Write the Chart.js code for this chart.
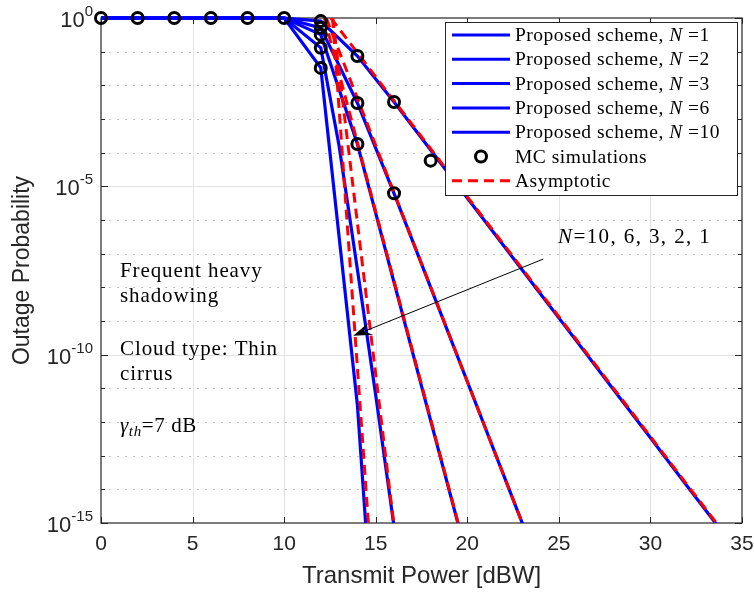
<!DOCTYPE html>
<html>
<head>
<meta charset="utf-8">
<script src="https://cdn.jsdelivr.net/npm/chart.js@4.4.1/dist/chart.umd.min.js"></script>
<style>
  html, body { margin: 0; padding: 0; background: #ffffff; }
  canvas { display: block; }
</style>
</head>
<body>
<canvas id="c" width="754" height="592"></canvas>
<script>
// ---- Outage probability vs transmit power ----

// Analytical curves (proposed scheme)
const powerN1  = [0, 2, 4, 6, 8, 10, 12, 14, 16, 18, 20, 22, 24, 26, 28, 30, 32, 34];
const outageN1 = [1, 1, 1, 1, 1, 1, 0.81, 0.074, 3.2e-3, 1.2e-4, 4.5e-6, 1.7e-7, 6.3e-9, 2.4e-10, 8.9e-12, 3.4e-13, 1.26e-14, 4.8e-16];

const powerN2  = [0, 2, 4, 6, 8, 10, 12, 14, 16, 18, 20, 22, 24];
const outageN2 = [1, 1, 1, 1, 1, 1, 0.51, 3.0e-3, 6.2e-6, 1.0e-8, 1.6e-11, 2.5e-14, 4.0e-17];

const powerN3  = [0, 2, 4, 6, 8, 10, 12, 14, 16, 18, 20];
const outageN3 = [1, 1, 1, 1, 1, 1, 0.32, 1.8e-4, 1.4e-8, 1.1e-12, 8.9e-17];

const powerN6  = [0, 2, 4, 6, 8, 10, 12, 13, 14, 15, 16];
const outageN6 = [1, 1, 1, 1, 1, 1, 0.13, 1.6e-4, 3.4e-8, 6.3e-12, 7.9e-16];

const powerN10  = [0, 2, 4, 6, 8, 10, 12, 13, 14, 15];
const outageN10 = [1, 1, 1, 1, 1, 1, 0.033, 3.2e-7, 3.2e-12, 5.0e-20];

// Monte Carlo simulation points
const mcPower  = [0, 2, 4, 6, 8, 10, 12, 14, 16, 18, 12, 14, 16, 12, 14, 12, 12];
const mcOutage = [1, 1, 1, 1, 1, 1, 0.81, 0.074, 3.2e-3, 5.8e-5, 0.51, 3.0e-3, 6.2e-6, 0.32, 1.8e-4, 0.13, 0.033];

// High-SNR asymptotes (straight lines on the log scale)
const asymPowerN1  = [12.55, 33.6];
const asymPowerN2  = [12.3, 23.0];
const asymPowerN3  = [12.2, 19.5];
const asymPowerN6  = [12.65, 15.98];
const asymPowerN10 = [12.65, 14.6];
const asymOutage   = [1, 1e-15];

// Axis ticks
const xTicks = [0, 5, 10, 15, 20, 25, 30, 35];
const yTickExponents = [0, -5, -10, -15];
const yDecades = [0, -1, -2, -3, -4, -5, -6, -7, -8, -9, -10, -11, -12, -13, -14, -15];

// Legend entries
const legendN = ['1', '2', '3', '6', '10'];

const zip = (xs, ys) => xs.map((v, i) => ({ x: v, y: ys[i] }));

const BLUE = '#0000ff';
const RED = '#ff0000';
const AXIS = '#262626';
const SANS = '"Liberation Sans", Arial, Helvetica, sans-serif';
const SERIF = '"Liberation Serif", "Times New Roman", serif';

const blueLine = (xs, ys) => ({
  data: zip(xs, ys), borderColor: BLUE, borderWidth: 3.2, pointRadius: 0,
  fill: false, tension: 0, order: 2, clip: { left: 2, top: 3, right: 2, bottom: 0 }
});
const redLine = (xs) => ({
  data: zip(xs, asymOutage), borderColor: RED, borderWidth: 3, borderDash: [10, 6],
  pointRadius: 0, fill: false, tension: 0, order: 1, clip: 0
});

const datasets = [
  blueLine(powerN1, outageN1),
  blueLine(powerN2, outageN2),
  blueLine(powerN3, outageN3),
  blueLine(powerN6, outageN6),
  blueLine(powerN10, outageN10),
  redLine(asymPowerN1),
  redLine(asymPowerN2),
  redLine(asymPowerN3),
  redLine(asymPowerN6),
  redLine(asymPowerN10),
  {
    data: zip(mcPower, mcOutage), showLine: false, pointStyle: 'circle',
    pointRadius: 5.5, pointBorderWidth: 3, pointBorderColor: '#000000',
    pointBackgroundColor: 'rgba(0,0,0,0)', borderColor: '#000000', order: 0, clip: false
  }
];

// Grid, box and tick marks (drawn beneath the data)
const frame = {
  id: 'frame',
  beforeDatasetsDraw(chart) {
    const { ctx, chartArea: a, scales: { x, y } } = chart;
    const L = Math.round(a.left), R = Math.round(a.right), T = Math.round(a.top), B = Math.round(a.bottom);
    const hline = (py, x0, x1) => { ctx.beginPath(); ctx.moveTo(x0, py); ctx.lineTo(x1, py); ctx.stroke(); };
    const vline = (px, y0, y1) => { ctx.beginPath(); ctx.moveTo(px, y0); ctx.lineTo(px, y1); ctx.stroke(); };
    ctx.save();
    ctx.lineWidth = 1;
    // dotted minor grid at every decade
    ctx.strokeStyle = '#c4c4c4';
    ctx.setLineDash([2, 6]);
    yDecades.forEach(e => {
      if (e % 5 === 0) return;
      hline(Math.round(y.getPixelForValue(Math.pow(10, e))) + 0.5, L, R);
    });
    ctx.setLineDash([]);
    // solid major grid
    ctx.strokeStyle = '#e2e2e2';
    yTickExponents.forEach(e => {
      const py = Math.round(y.getPixelForValue(Math.pow(10, e))) + 0.5;
      if (py > T + 1 && py < B - 1) hline(py, L, R);
    });
    xTicks.forEach(v => {
      const px = Math.round(x.getPixelForValue(v)) + 0.5;
      if (px > L + 1 && px < R - 1) vline(px, T, B);
    });
    // box
    ctx.strokeStyle = AXIS;
    ctx.lineWidth = 1.2;
    ctx.strokeRect(L, T, R - L, B - T);
    // tick marks pointing inward, on all four sides
    ctx.lineWidth = 1;
    xTicks.forEach(v => {
      const px = Math.round(x.getPixelForValue(v)) + 0.5;
      vline(px, B, B - 6);
      vline(px, T, T + 6);
    });
    yDecades.forEach(e => {
      const py = Math.round(y.getPixelForValue(Math.pow(10, e))) + 0.5;
      const len = e % 5 === 0 ? 7 : 4;
      hline(py, L, L + len);
      hline(py, R, R - len);
    });
    ctx.restore();
  }
};

// Draw a run of text pieces with different styles
function drawRuns(ctx, x0, y0, runs, spacing) {
  let cx = x0;
  runs.forEach(r => {
    ctx.font = (r.italic ? 'italic ' : '') + r.size + 'px ' + SERIF;
    if ('letterSpacing' in ctx) ctx.letterSpacing = spacing + 'px';
    ctx.fillText(r.t, cx, y0 + (r.dy || 0));
    cx += ctx.measureText(r.t).width;
  });
  if ('letterSpacing' in ctx) ctx.letterSpacing = '0px';
  return cx;
}

// Tick labels with exponents, annotations, arrow and legend
const overlay = {
  id: 'overlay',
  afterDraw(chart) {
    const { ctx, chartArea: a, scales: { x, y } } = chart;
    ctx.save();
    ctx.fillStyle = AXIS;

    // y tick labels: 10^e
    yTickExponents.forEach(e => {
      const py = y.getPixelForValue(Math.pow(10, e));
      const sup = String(e);
      ctx.font = '15px ' + SANS;
      const wSup = ctx.measureText(sup).width;
      ctx.font = '22px ' + SANS;
      const wBase = ctx.measureText('10').width;
      const right = a.left - 8;
      ctx.textBaseline = 'middle';
      ctx.textAlign = 'left';
      ctx.fillText('10', right - wSup - wBase, py + 3);
      ctx.font = '15px ' + SANS;
      ctx.fillText(sup, right - wSup, py - 6);
    });

    // annotations
    ctx.fillStyle = '#000000';
    ctx.textBaseline = 'alphabetic';
    ctx.textAlign = 'left';
    const ax = a.left + 19;
    drawRuns(ctx, ax, 277, [{ t: 'Frequent heavy', size: 21 }], 0.9);
    drawRuns(ctx, ax, 302, [{ t: 'shadowing', size: 21 }], 0.9);
    drawRuns(ctx, ax, 355, [{ t: 'Cloud type: Thin', size: 21 }], 0.9);
    drawRuns(ctx, ax, 380, [{ t: 'cirrus', size: 21 }], 0.9);
    drawRuns(ctx, ax, 432, [
      { t: 'γ', size: 21, italic: true },
      { t: 'th', size: 15, italic: true, dy: 4 },
      { t: '=7 dB', size: 21 }
    ], 0.6);
    drawRuns(ctx, 558, 243, [
      { t: 'N', size: 21, italic: true },
      { t: '=10, 6, 3, 2, 1', size: 21 }
    ], 1.4);

    // arrow pointing across the curves
    const tail = { x: x.getPixelForValue(24.15), y: y.getPixelForValue(Math.pow(10, -7.16)) };
    const tip = { x: x.getPixelForValue(13.77), y: y.getPixelForValue(Math.pow(10, -9.44)) };
    const dx = tail.x - tip.x, dy = tail.y - tip.y, len = Math.hypot(dx, dy);
    const ux = dx / len, uy = dy / len, nx = -uy, ny = ux;
    const headL = 19, headW = 6.5;
    ctx.strokeStyle = '#000000';
    ctx.lineWidth = 1;
    ctx.beginPath();
    ctx.moveTo(tail.x, tail.y);
    ctx.lineTo(tip.x + ux * headL * 0.6, tip.y + uy * headL * 0.6);
    ctx.stroke();
    ctx.beginPath();
    ctx.moveTo(tip.x, tip.y);
    ctx.lineTo(tip.x + ux * headL + nx * headW, tip.y + uy * headL + ny * headW);
    ctx.lineTo(tip.x + ux * headL * 0.6, tip.y + uy * headL * 0.6);
    ctx.lineTo(tip.x + ux * headL - nx * headW, tip.y + uy * headL - ny * headW);
    ctx.closePath();
    ctx.fillStyle = '#000000';
    ctx.fill();

    // legend box
    const bx = 445, by = 22, bw = 292, bh = 173;
    ctx.fillStyle = '#ffffff';
    ctx.fillRect(bx, by, bw, bh);
    ctx.strokeStyle = AXIS;
    ctx.lineWidth = 1;
    ctx.strokeRect(bx + 0.5, by + 0.5, bw, bh);
    const rowY = i => 41 + i * 24.3;
    const sx0 = 452, sx1 = 510, tx = 515;
    ctx.fillStyle = '#000000';
    legendN.forEach((n, i) => {
      const yy = rowY(i);
      ctx.strokeStyle = BLUE; ctx.lineWidth = 3; ctx.setLineDash([]);
      ctx.beginPath(); ctx.moveTo(sx0, yy - 6); ctx.lineTo(sx1, yy - 6); ctx.stroke();
      drawRuns(ctx, tx, yy, [
        { t: 'Proposed scheme, ', size: 19.5 },
        { t: 'N', size: 19.5, italic: true },
        { t: ' =' + n, size: 19.5 }
      ], 0.5);
    });
    // MC marker entry
    let yy = rowY(5);
    ctx.strokeStyle = '#000000'; ctx.lineWidth = 3;
    ctx.beginPath(); ctx.arc((sx0 + sx1) / 2, yy - 6, 5.5, 0, Math.PI * 2); ctx.stroke();
    drawRuns(ctx, tx, yy, [{ t: 'MC simulations', size: 19.5 }], 0.5);
    // asymptote entry
    yy = rowY(6);
    ctx.strokeStyle = RED; ctx.lineWidth = 3; ctx.setLineDash([10, 6]);
    ctx.beginPath(); ctx.moveTo(sx0, yy - 6); ctx.lineTo(sx1, yy - 6); ctx.stroke();
    ctx.setLineDash([]);
    drawRuns(ctx, tx, yy, [{ t: 'Asymptotic', size: 19.5 }], 0.5);

    ctx.restore();
  }
};

new Chart(document.getElementById('c'), {
  type: 'line',
  data: { datasets },
  options: {
    responsive: false,
    animation: false,
    devicePixelRatio: 1,
    layout: { padding: { top: 18, right: 12, left: 0, bottom: 0 } },
    plugins: { legend: { display: false }, tooltip: { enabled: false } },
    scales: {
      x: {
        type: 'linear', min: 0, max: 35,
        ticks: { stepSize: 5, color: AXIS, padding: 9, font: { family: SANS, size: 21 } },
        grid: { display: false, drawTicks: false },
        border: { display: false },
        title: { display: true, text: 'Transmit Power [dBW]', color: AXIS,
                 font: { family: SANS, size: 24 }, padding: { top: 0, bottom: 1 } },
        afterFit: s => { s.height = 69; s.paddingLeft = 0; s.paddingRight = 0; }
      },
      y: {
        type: 'logarithmic', min: 1e-15, max: 1,
        ticks: { display: false },
        grid: { display: false, drawTicks: false },
        border: { display: false },
        title: { display: true, text: 'Outage Probability', color: AXIS,
                 font: { family: SANS, size: 23 }, padding: { top: 9, bottom: 0 } },
        afterFit: s => { s.width = 101; s.paddingTop = 0; s.paddingBottom = 0; }
      }
    }
  },
  plugins: [frame, overlay]
});
</script>
</body>
</html>
